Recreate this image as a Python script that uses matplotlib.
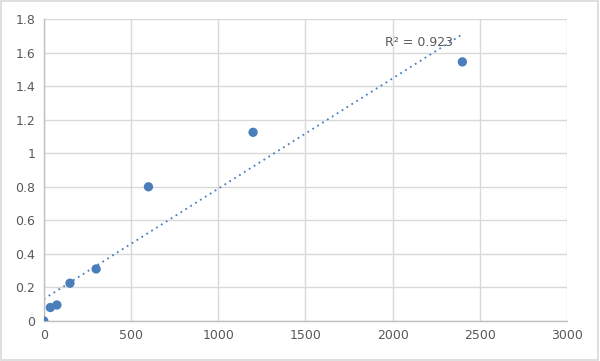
import matplotlib
matplotlib.use("Agg")
import matplotlib.pyplot as plt
import numpy as np
from matplotlib.patches import Rectangle

x_vals = [0, 37.5, 75, 150, 300, 600, 1200, 2400]
y_vals = [0.0, 0.08, 0.095, 0.225, 0.31, 0.80, 1.125, 1.545]
x_ticks = [0, 500, 1000, 1500, 2000, 2500, 3000]
y_ticks = [0, 0.2, 0.4, 0.6, 0.8, 1.0, 1.2, 1.4, 1.6, 1.8]
y_tick_labels = ["0", "0.2", "0.4", "0.6", "0.8", "1", "1.2", "1.4", "1.6", "1.8"]

fig = plt.figure(figsize=(6, 3.61), dpi=100)
fig.patches.append(Rectangle((0.002, 0.003), 0.995, 0.993, transform=fig.transFigure,
                             fill=False, edgecolor="#d9d9d9", linewidth=1.2))
ax = fig.add_axes([0.073, 0.111, 0.872, 0.836])

col = "#4a7ebb"
x = np.array(x_vals)
y = np.array(y_vals)
m, b = np.polyfit(x, y, 1)
pred = m * x + b
r2 = 1 - np.sum((y - pred) ** 2) / np.sum((y - y.mean()) ** 2)
xl = np.array([0, 2400])
ax.plot(xl, m * xl + b, linestyle=(0, (1, 2.2)), color=col, linewidth=1.3, zorder=2)
ax.scatter(x, y, s=45, color=col, zorder=3, edgecolors="none")

ax.set_xlim(0, 3000)
ax.set_ylim(0, 1.8)
ax.set_xticks(x_ticks)
ax.set_yticks(y_ticks)
ax.set_yticklabels(y_tick_labels)
ax.grid(True, color="#d9d9d9", linewidth=1.0)
ax.set_axisbelow(True)
for s in ["top", "right"]:
    ax.spines[s].set_visible(False)
for s in ["left", "bottom"]:
    ax.spines[s].set_color("#bfbfbf")
    ax.spines[s].set_linewidth(1.0)
ax.tick_params(length=0, colors="#595959", labelsize=9, pad=6)
ax.text(1955, 1.64, "R² = %.3f" % r2, color="#595959", fontsize=9)

fig.savefig("out.png", dpi=100)
